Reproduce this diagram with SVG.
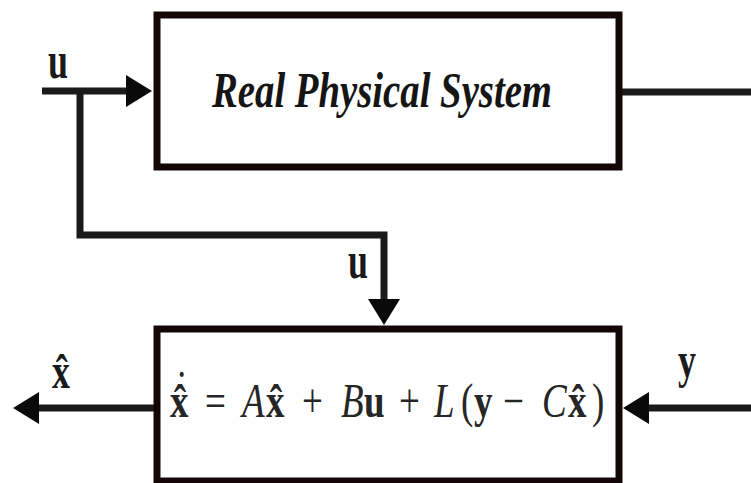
<svg xmlns="http://www.w3.org/2000/svg" width="751" height="483" viewBox="0 0 751 483">
<style>
.box{fill:#ffffff;stroke:#140606;stroke-width:7}
.wire{fill:none;stroke:#1a1a1a;stroke-width:7}
.lbl{font-family:"Liberation Serif","Times New Roman",serif;font-weight:bold;font-size:36px;fill:#1a1a1a}
.eq{font-family:"Liberation Serif","Times New Roman",serif;font-size:37px;fill:#262626}
.b{font-weight:bold}
.i{font-style:italic}
.title{font-family:"Liberation Serif","Times New Roman",serif;font-weight:bold;font-style:italic;font-size:51px;fill:#151515}
</style>
<defs>
<marker id="arr" viewBox="0 0 26 32" markerWidth="26" markerHeight="32" refX="6" refY="16" orient="auto" markerUnits="userSpaceOnUse">
<path d="M0,0 L26,16 L0,32 z" fill="#0a0a0a"/>
</marker>
</defs>
<rect width="751" height="483" fill="#ffffff"/>
<g id="connectors">
<path class="wire" d="M42,91 H132" marker-end="url(#arr)"/>
<path class="wire" d="M80,91 V235 H384 V305" marker-end="url(#arr)"/>
<path class="wire" d="M619,92 H751"/>
<path class="wire" d="M751,408 H643" marker-end="url(#arr)"/>
<path class="wire" d="M157,408 H33" marker-end="url(#arr)"/>
</g>
<g id="real-physical-system">
<rect class="box" x="157" y="15" width="462" height="152"/>
<text class="title" x="212" y="107" textLength="340" lengthAdjust="spacingAndGlyphs">Real Physical System</text>
</g>
<g id="observer">
<rect class="box" x="157" y="329" width="462" height="152"/>
<g class="eq" transform="translate(0,417) scale(1,1.3)">
<text class="b" x="170" y="0">x̂<tspan dx="-13" dy="-10" font-weight="normal">˙</tspan></text>
<text x="205" y="0">=</text>
<text class="i" x="242" y="0">A</text>
<text class="b" x="266" y="0">x̂</text>
<text x="302" y="0">+</text>
<text class="i" x="341" y="0">B</text>
<text class="b" x="364" y="0">u</text>
<text x="399" y="0">+</text>
<text class="i" x="434" y="0">L</text>
<text x="461" y="0">(</text>
<text class="b" x="474" y="0">y</text>
<text x="503" y="0">−</text>
<text class="i" x="542" y="0">C</text>
<text class="b" x="568" y="0">x̂</text>
<text x="592" y="0">)</text>
</g>
</g>
<g id="labels">
<text class="lbl" transform="translate(48,78) scale(1,1.45)">u</text>
<text class="lbl" transform="translate(348,278) scale(1,1.45)">u</text>
<text class="lbl" transform="translate(52,388) scale(1,1.4)">x̂</text>
<text class="lbl" transform="translate(678,377) scale(1,1.4)" font-size="40">y</text>
</g>
</svg>
